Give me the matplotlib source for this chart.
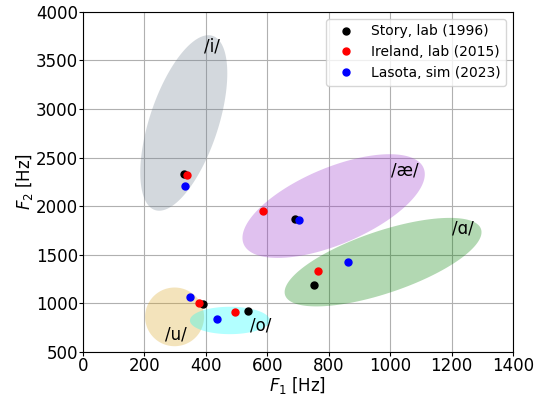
import numpy as np
import matplotlib
matplotlib.use("Agg")
import matplotlib.pyplot as plt

# formant measurements (F1, F2) in Hz per vowel: /i/, /u/, /o/, /ae/, /a/
story_f1 = [329, 389, 538, 689, 752]
story_f2 = [2335, 990, 921, 1872, 1192]
ireland_f1 = [340, 376, 494, 586, 765]
ireland_f2 = [2321, 1000, 907, 1954, 1336]
lasota_f1 = [333, 348, 437, 703, 863]
lasota_f2 = [2205, 1068, 839, 1861, 1425]

# vowel regions: center, half-axis vectors (Hz), colour
regions = {
    "/i/":  dict(c=(328, 2857), u=(94, 896), v=(106, -112), color="slategray"),
    "/u/":  dict(c=(298, 862), u=(96, 0), v=(0, 302), color="goldenrod"),
    "/o/":  dict(c=(478, 825), u=(130, 0), v=(0, 141), color="cyan"),
    "/æ/":  dict(c=(816, 2002), u=(293, 391), v=(48, -363), color="darkorchid"),
    "/ɑ/":  dict(c=(977, 1425), u=(319, 340), v=(32, -303), color="green"),
}
label_pos = {
    "/i/": (420, 3640),
    "/u/": (302, 684),
    "/o/": (579, 777),
    "/æ/": (1047, 2373),
    "/ɑ/": (1236, 1775),
}

fig = plt.figure(figsize=(5.36, 3.96), dpi=100)
ax = fig.add_axes([0.155, 0.111, 0.802, 0.859])

t = np.linspace(0, 2 * np.pi, 200)
for name, r in regions.items():
    cx, cy = r["c"]
    ux, uy = r["u"]
    vx, vy = r["v"]
    xs = cx + ux * np.cos(t) + vx * np.sin(t)
    ys = cy + uy * np.cos(t) + vy * np.sin(t)
    ax.fill(xs, ys, color=r["color"], alpha=0.3, lw=0, zorder=1)
    ax.text(*label_pos[name], name, fontsize=12, ha="center", va="center", zorder=3)

ax.plot(story_f1, story_f2, "o", color="black", ms=5, label="Story, lab (1996)", zorder=4)
ax.plot(ireland_f1, ireland_f2, "o", color="red", ms=5, label="Ireland, lab (2015)", zorder=4)
ax.plot(lasota_f1, lasota_f2, "o", color="blue", ms=5, label="Lasota, sim (2023)", zorder=4)

ax.set_xlim(0, 1400)
ax.set_ylim(500, 4000)
ax.set_xticks(range(0, 1401, 200))
ax.set_yticks(range(500, 4001, 500))
ax.tick_params(labelsize=12, pad=0.5, length=3)
ax.grid(True, zorder=0)
ax.set_axisbelow(True)
ax.set_xlabel("$F_1$ [Hz]", fontsize=12, labelpad=0)
ax.set_ylabel("$F_2$ [Hz]", fontsize=12, labelpad=1)
ax.legend(loc="upper right", fontsize=10)

fig.savefig("out.png", dpi=100)
